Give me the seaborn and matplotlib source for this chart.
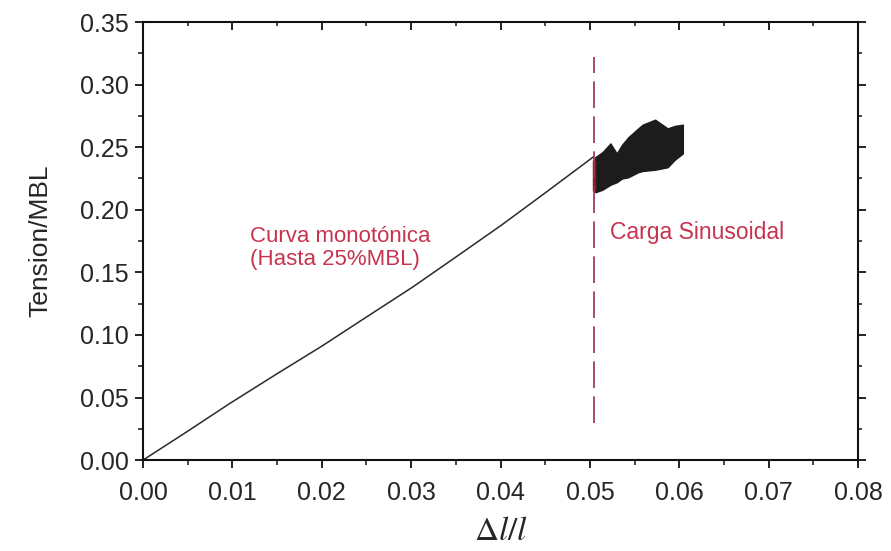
import numpy as np
import pandas as pd
import matplotlib
matplotlib.use("Agg")
import matplotlib.pyplot as plt
from matplotlib.ticker import MultipleLocator
import seaborn as sns

# monotonic loading curve
mono_x = [0.0, 0.0049, 0.0097, 0.0150, 0.0200, 0.0250, 0.0302, 0.0350, 0.0401, 0.0450, 0.0504]
mono_y = [0.0, 0.0226, 0.0452, 0.0690, 0.0910, 0.1143, 0.1384, 0.1622, 0.1877, 0.2135, 0.2423]

# envelope of the sinusoidal (cyclic) loading band
band_x = [0.0506, 0.0514, 0.0523, 0.0530, 0.0536, 0.0543, 0.0554, 0.0559, 0.0573, 0.0587, 0.0595, 0.0604]
band_hi = [0.242, 0.246, 0.253, 0.245, 0.252, 0.258, 0.265, 0.268, 0.272, 0.265, 0.267, 0.268]
band_lo = [0.214, 0.216, 0.220, 0.222, 0.225, 0.226, 0.230, 0.231, 0.232, 0.234, 0.240, 0.245]

# first cycles (red marks at the start of the band)
red_x = [0.0505, 0.0505]
red_y = [0.215, 0.240]

# boundary between the two stages
split_x = [0.0505, 0.0505]
split_y = [0.030, 0.322]

xticks = [0.00, 0.01, 0.02, 0.03, 0.04, 0.05, 0.06, 0.07, 0.08]
yticks = [0.00, 0.05, 0.10, 0.15, 0.20, 0.25, 0.30, 0.35]

sns.set_style("ticks")
plt.rcParams["font.family"] = ["Liberation Sans", "DejaVu Sans"]
plt.rcParams["mathtext.fontset"] = "stix"

fig = plt.figure(figsize=(8.91, 5.51), dpi=100)
ax = fig.add_axes([0.1605, 0.165, 0.8025, 0.795])

mono = pd.DataFrame({"x": mono_x, "y": mono_y})
sns.lineplot(data=mono, x="x", y="y", color="#2a2a2a", linewidth=1.1,
             estimator=None, sort=False, ax=ax)

ax.fill_between(band_x, band_lo, band_hi, color="#1c1c1c", linewidth=1.0,
                edgecolor="#1c1c1c")
ax.plot(red_x, red_y, color="#8e1a32", linewidth=2.5, solid_capstyle="butt")
ax.plot(split_x, split_y, color="#9a2f45", linewidth=1.2, dashes=(16, 5))

red = "#c7344f"
ax.text(0.0120, 0.1695, "Curva monotónica\n(Hasta 25%MBL)", color=red,
        fontsize=16, ha="left", va="center", linespacing=1.1)
ax.text(0.0522, 0.182, "Carga Sinusoidal", color=red, fontsize=16.5,
        ha="left", va="center")

ax.set_xlim(0, 0.08)
ax.set_ylim(0, 0.35)
ax.set_xticks(xticks)
ax.set_yticks(yticks)
ax.set_xticklabels(["{:.2f}".format(v) for v in xticks])
ax.set_yticklabels(["{:.2f}".format(v) for v in yticks])
ax.xaxis.set_minor_locator(MultipleLocator(0.005))
ax.yaxis.set_minor_locator(MultipleLocator(0.025))

ax.tick_params(which="major", direction="out", length=6, width=1.3,
               labelsize=18, pad=4, colors="#111111", labelcolor="#262626")
ax.tick_params(which="minor", direction="out", length=3.5, width=1.2)
ax.tick_params(axis="x", which="major", pad=9)
ax.xaxis.set_tick_params(which="both", top=True)
ax.yaxis.set_tick_params(which="both", right=True)
# inward ticks on top/right only
for ticks, size in [(ax.xaxis.get_major_ticks(), 6), (ax.xaxis.get_minor_ticks(), 3)]:
    for t in ticks:
        t.tick2line.set_marker(3)
        t.tick2line.set_markersize(size)
for ticks, size in [(ax.yaxis.get_major_ticks(), 6), (ax.yaxis.get_minor_ticks(), 3)]:
    for t in ticks:
        t.tick2line.set_marker(1)
        t.tick2line.set_markersize(size)

for s in ax.spines.values():
    s.set_linewidth(1.5)
    s.set_color("#111111")

ax.set_xlabel(r"$\Delta l/l$", fontsize=24, labelpad=8, color="#262626")
ax.set_ylabel("Tension/MBL", fontsize=19, labelpad=20, color="#262626")

fig.savefig("out.png", dpi=100)
